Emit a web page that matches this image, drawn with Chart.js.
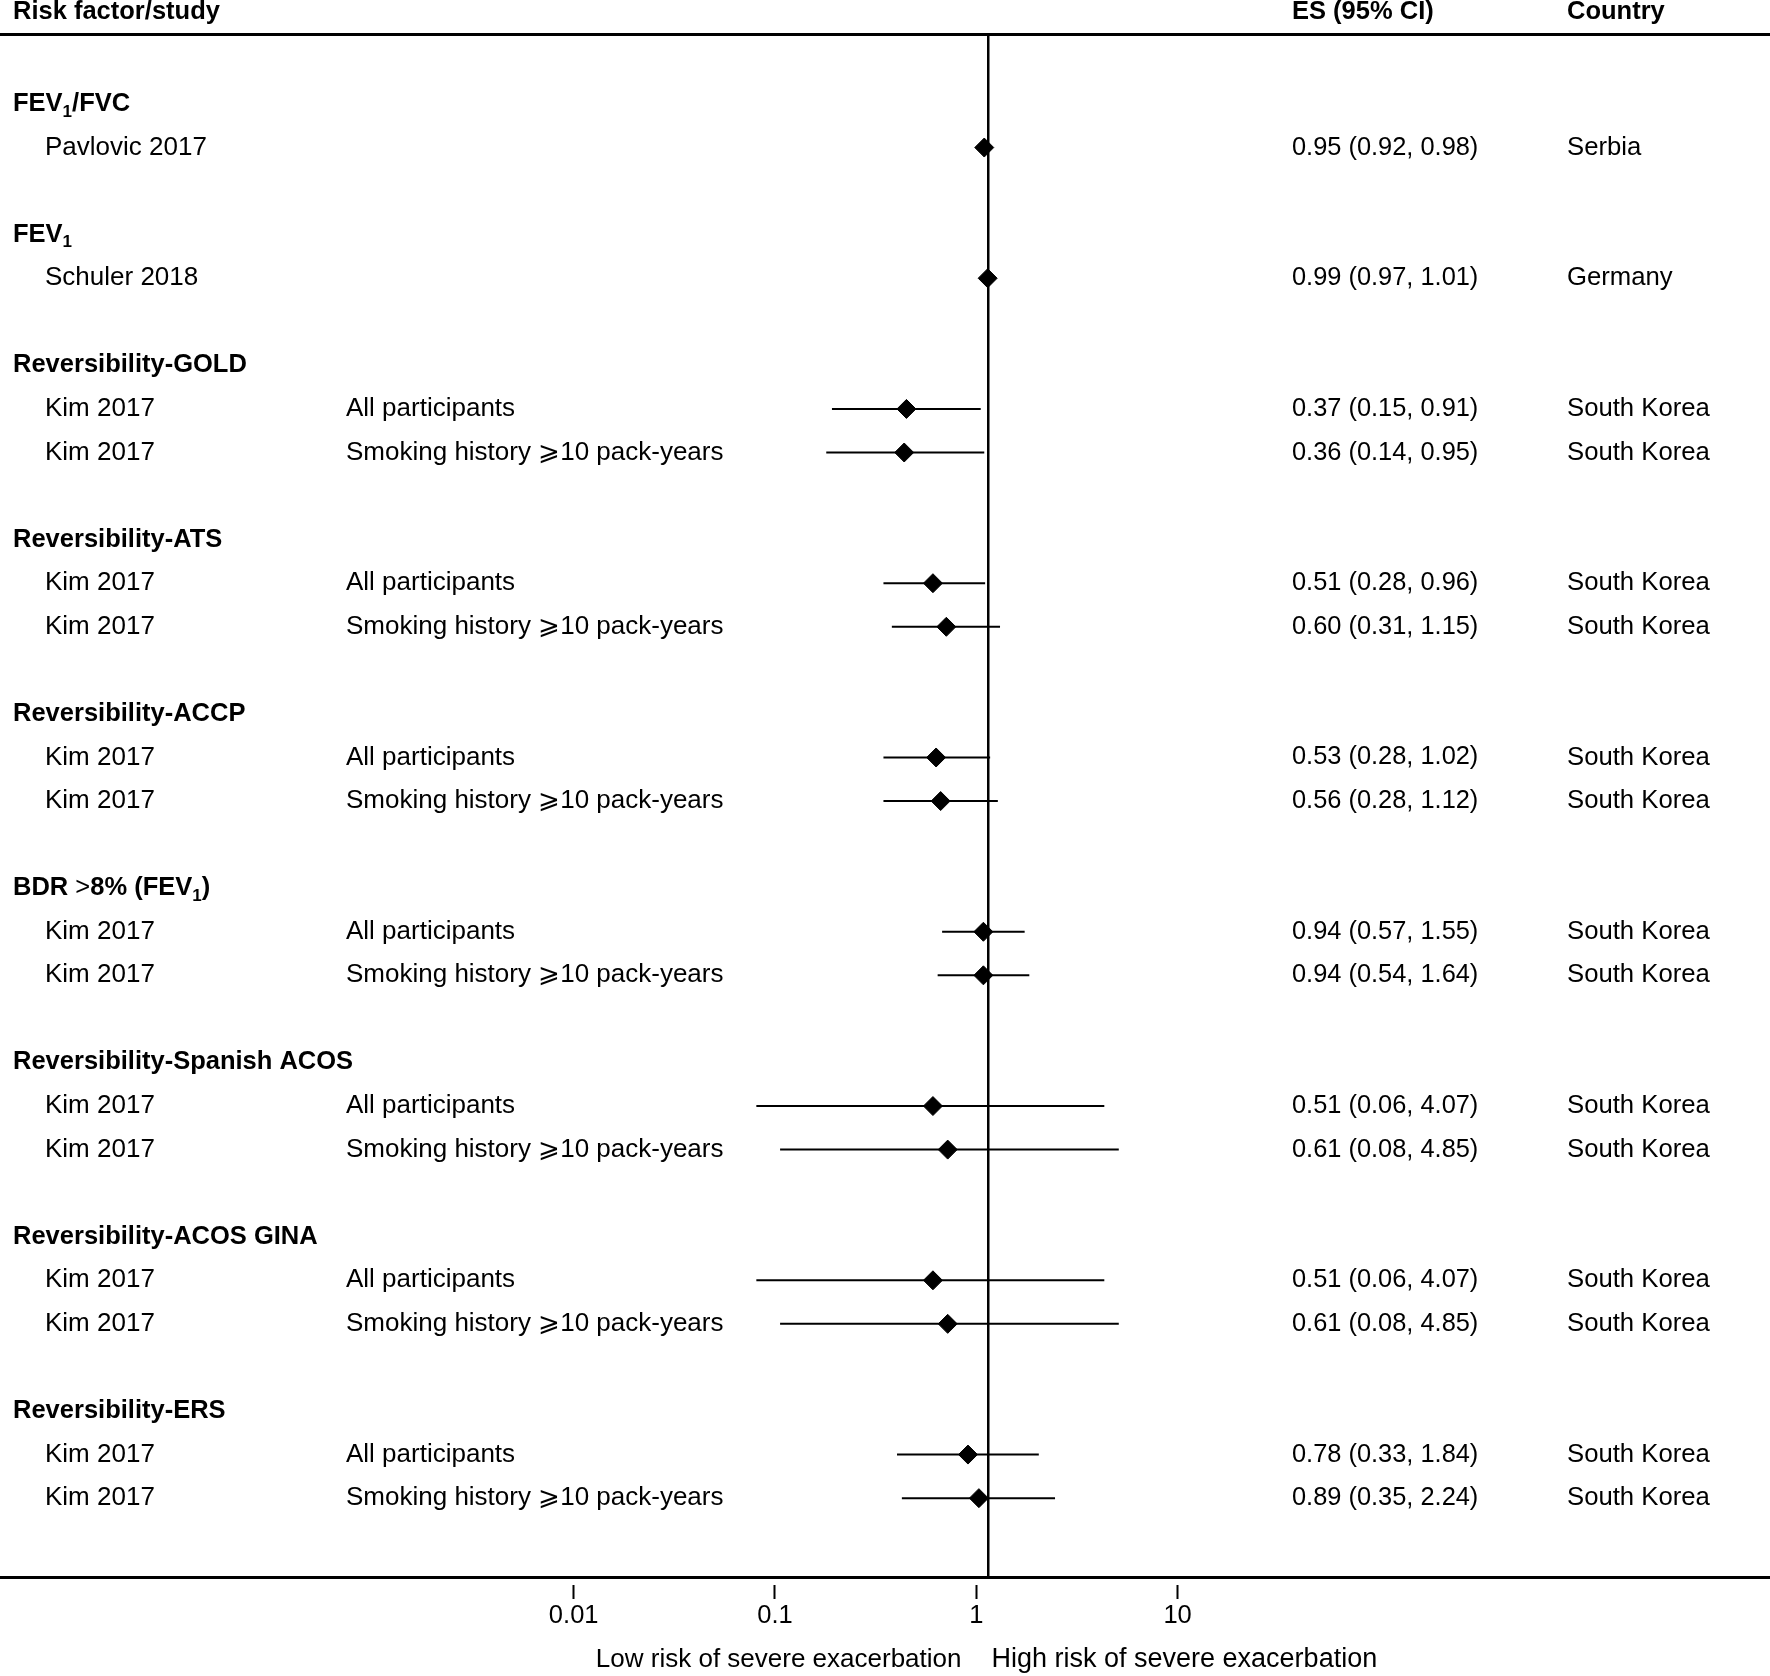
<!DOCTYPE html>
<html>
<head>
<meta charset="utf-8">
<script src="https://cdn.jsdelivr.net/npm/chart.js@4.4.1/dist/chart.umd.min.js"></script>
<style>
  html, body { margin: 0; padding: 0; background: #fff; }
  canvas { display: block; }
</style>
</head>
<body>
<canvas id="forest" width="1770" height="1676"></canvas>
<script>
// Groupes (risk factors), "_1" = indice
const groups = ['FEV_1/FVC', 'FEV_1', 'Reversibility-GOLD', 'Reversibility-ATS', 'Reversibility-ACCP',
    'BDR >8% (FEV_1)', 'Reversibility-Spanish ACOS', 'Reversibility-ACOS GINA', 'Reversibility-ERS'];

// Etudes
const studyGroup = [0, 1, 2, 2, 3, 3, 4, 4, 5, 5, 6, 6, 7, 7, 8, 8];
const studyNames = ['Pavlovic 2017', 'Schuler 2018', 'Kim 2017', 'Kim 2017', 'Kim 2017', 'Kim 2017', 'Kim 2017',
    'Kim 2017', 'Kim 2017', 'Kim 2017', 'Kim 2017', 'Kim 2017', 'Kim 2017', 'Kim 2017', 'Kim 2017', 'Kim 2017'];
const ALL = 'All participants';
const SMOKE = 'Smoking history \u2A7E10 pack-years';
const subgroups = ['', '', ALL, SMOKE, ALL, SMOKE, ALL, SMOKE, ALL, SMOKE, ALL, SMOKE, ALL, SMOKE, ALL, SMOKE];
const es = [0.95, 0.99, 0.37, 0.36, 0.51, 0.60, 0.53, 0.56, 0.94, 0.94, 0.51, 0.61, 0.51, 0.61, 0.78, 0.89];
const ciLow = [0.92, 0.97, 0.15, 0.14, 0.28, 0.31, 0.28, 0.28, 0.57, 0.54, 0.06, 0.08, 0.06, 0.08, 0.33, 0.35];
const ciHigh = [0.98, 1.01, 0.91, 0.95, 0.96, 1.15, 1.02, 1.12, 1.55, 1.64, 4.07, 4.85, 4.07, 4.85, 1.84, 2.24];
const countries = ['Serbia', 'Germany', 'South Korea', 'South Korea', 'South Korea', 'South Korea', 'South Korea',
    'South Korea', 'South Korea', 'South Korea', 'South Korea', 'South Korea', 'South Korea', 'South Korea',
    'South Korea', 'South Korea'];

// Axe du bas
const tickValues = [0.01, 0.1, 1, 10];
const tickLabels = ['0.01', '0.1', '1', '10'];
const lowLabel = 'Low risk of severe exacerbation';
const highLabel = 'High risk of severe exacerbation';

const FONT = "'Liberation Sans', Arial, sans-serif";
Chart.defaults.font.family = FONT;
Chart.defaults.color = '#000';

// Numéro de ligne de chaque groupe / étude (une ligne vide entre groupes)
const groupRow = [];
const studyRow = [];
let row = 0;
groups.forEach((g, gi) => {
    groupRow.push(row);
    row++;
    studyGroup.forEach((sg, si) => {
        if (sg === gi) {
            studyRow[si] = row;
            row++;
        }
    });
    row++;
});

// Texte avec indice ("_1") et ">" en maigre
function drawRich(ctx, str, x, y) {
    const parts = str.split(/(_\d|>)/).filter(p => p !== '');
    let cx = x;
    parts.forEach(p => {
        let dy = 0;
        let txt = p;
        if (p[0] === '_') {
            ctx.font = 'bold 17px ' + FONT;
            txt = p.slice(1);
            dy = 8;
        } else if (p === '>') {
            ctx.font = '25.5px ' + FONT;
        } else {
            ctx.font = 'bold 25.5px ' + FONT;
        }
        ctx.fillText(txt, cx, y + dy);
        cx += ctx.measureText(txt).width;
    });
}

const tablePlugin = {
    id: 'forestTable',
    afterDraw(chart) {
        const ctx = chart.ctx;
        const yScale = chart.scales.y;
        const xScale = chart.scales.x;
        ctx.save();
        ctx.fillStyle = '#000';
        ctx.textBaseline = 'middle';
        ctx.textAlign = 'left';

        // En-têtes
        ctx.font = 'bold 25.5px ' + FONT;
        ctx.fillText('Risk factor/study', 13, 12);
        ctx.fillText('ES (95% CI)', 1292, 12);
        ctx.fillText('Country', 1567, 12);

        groups.forEach((g, gi) => {
            drawRich(ctx, g, 13, yScale.getPixelForValue(groupRow[gi]));
        });

        studyNames.forEach((name, i) => {
            const py = yScale.getPixelForValue(studyRow[i]);
            ctx.font = '26px ' + FONT;
            ctx.fillText(name, 45, py);
            if (subgroups[i]) ctx.fillText(subgroups[i], 346, py);
            ctx.font = '25.4px ' + FONT;
            const txt = es[i].toFixed(2) + ' (' + ciLow[i].toFixed(2) + ', ' + ciHigh[i].toFixed(2) + ')';
            ctx.fillText(txt, 1292, py);
            ctx.font = '25.7px ' + FONT;
            ctx.fillText(countries[i], 1567, py);
        });

        // Libellés sous l'axe
        const nullX = xScale.getPixelForValue(1);
        ctx.font = '26px ' + FONT;
        ctx.textAlign = 'right';
        ctx.fillText(lowLabel, nullX - 27, 1660);
        ctx.font = '27px ' + FONT;
        ctx.textAlign = 'left';
        ctx.fillText(highLabel, nullX + 3, 1660);
        ctx.restore();
    }
};

const datasets = [];
datasets.push({
    label: 'ES',
    data: es.map((v, i) => ({ x: v, y: studyRow[i] })),
    pointStyle: 'rectRot',
    pointRadius: 9.5,
    backgroundColor: '#000',
    borderColor: '#000',
    borderWidth: 1
});
es.forEach((v, i) => {
    datasets.push({
        type: 'line',
        label: 'CI ' + i,
        data: [{ x: ciLow[i], y: studyRow[i] }, { x: ciHigh[i], y: studyRow[i] }],
        borderColor: '#000',
        borderWidth: 2,
        pointRadius: 0,
        showLine: true
    });
});

new Chart(document.getElementById('forest').getContext('2d'), {
    type: 'scatter',
    data: { datasets: datasets },
    options: {
        responsive: false,
        animation: false,
        devicePixelRatio: 1,
        layout: { padding: 0, autoPadding: false },
        plugins: {
            legend: { display: false },
            tooltip: { enabled: false }
        },
        scales: {
            x: {
                type: 'logarithmic',
                position: 'top',
                min: 6.27e-6,
                max: 12981,
                afterBuildTicks: s => { s.ticks = [{ value: 1 }]; },
                afterFit: s => { s.height = 34; },
                ticks: { display: false },
                grid: { drawTicks: false, color: '#000', lineWidth: 2.5 },
                border: { display: true, color: '#000', width: 3 }
            },
            xt: {
                type: 'logarithmic',
                position: 'bottom',
                min: 1.413e-5,
                max: 8770,
                afterBuildTicks: s => { s.ticks = tickValues.map(v => ({ value: v })); },
                afterFit: s => { s.height = 99; },
                ticks: {
                    autoSkip: false,
                    maxRotation: 0,
                    padding: 2,
                    font: { size: 25.5 },
                    color: '#000',
                    callback: (value, index) => tickLabels[index]
                },
                grid: {
                    drawOnChartArea: false,
                    tickLength: 22,
                    tickWidth: 2,
                    tickColor: '#000',
                    tickBorderDash: [0, 6, 16, 100]
                },
                border: { display: true, color: '#000', width: 3 }
            },
            y: {
                type: 'linear',
                display: false,
                reverse: true,
                min: -1.606,
                max: 33.81
            }
        }
    },
    plugins: [tablePlugin]
});
</script>
</body>
</html>
